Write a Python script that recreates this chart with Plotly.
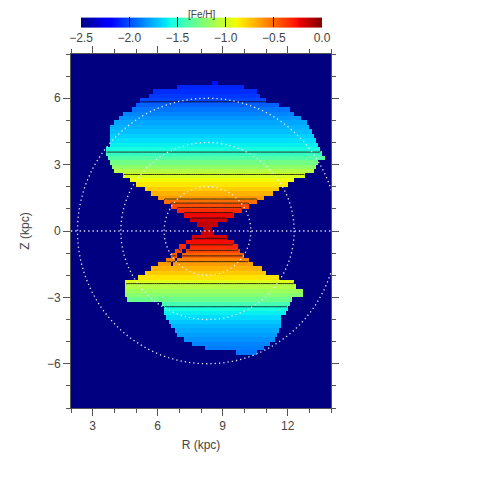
import numpy as np
import plotly.graph_objects as go

# rows of the map above the plane: Z centre (kpc), mean [Fe/H], R extent (kpc)
z_up = [0.1, 0.3, 0.5, 0.7, 0.9, 1.1, 1.3, 1.5, 1.7, 1.9, 2.1, 2.3, 2.5, 2.7, 2.9, 3.1, 3.3,
        3.5, 3.7, 3.9, 4.1, 4.3, 4.5, 4.7, 4.9, 5.1, 5.3, 5.5, 5.7, 5.9, 6.1, 6.3, 6.5, 6.7]
feh_up = [-0.12, -0.14, -0.17, -0.24, -0.33, -0.42, -0.52, -0.63, -0.70, -0.77, -0.84, -0.90,
          -0.97, -1.08, -1.20, -1.28, -1.38, -1.47, -1.56, -1.60, -1.64, -1.68, -1.72, -1.75,
          -1.78, -1.82, -1.86, -1.90, -1.95, -2.02, -2.05, -2.08, -2.10, -2.15]
rmin_up = [8.1, 7.85, 7.55, 7.25, 6.95, 6.65, 6.35, 6.05, 5.75, 5.4, 5.05, 4.7, 4.4, 4.0, 3.9,
           3.8, 3.75, 3.6, 3.6, 3.8, 3.8, 3.8, 3.8, 3.85, 4.0, 4.2, 4.4, 4.8, 5.0, 5.2, 5.6,
           5.8, 6.9, 8.5]
rmax_up = [8.5, 8.8, 9.15, 9.5, 9.85, 10.2, 10.55, 10.9, 11.25, 11.6, 11.95, 12.3, 12.8, 13.2,
           13.3, 13.4, 13.7, 13.6, 13.5, 13.4, 13.3, 13.2, 13.1, 13.0, 12.9, 12.6, 12.3, 12.1,
           11.6, 11.0, 10.7, 10.6, 10.0, 8.8]

# rows below the plane
z_lo = [-0.1, -0.3, -0.5, -0.7, -0.9, -1.1, -1.3, -1.5, -1.7, -1.9, -2.1, -2.3, -2.5, -2.7,
        -2.9, -3.1, -3.3, -3.5, -3.7, -3.9, -4.1, -4.3, -4.5, -4.7, -4.9, -5.1, -5.3, -5.5]
feh_lo = [-0.15, -0.19, -0.25, -0.33, -0.41, -0.49, -0.57, -0.64, -0.70, -0.76, -0.83, -0.95,
          -1.08, -1.15, -1.22, -1.30, -1.42, -1.55, -1.60, -1.65, -1.70, -1.74, -1.77, -1.80,
          -1.83, -1.86, -1.88, -1.90]
rmin_lo = [8.0, 7.6, 7.3, 7.05, 6.85, 6.65, 6.45, 6.05, 5.75, 5.4, 5.1, 4.5, 4.5, 4.5, 4.5,
           4.6, 6.2, 6.3, 6.3, 6.45, 6.5, 6.6, 6.8, 6.9, 7.2, 7.6, 8.2, 9.6]
rmax_lo = [8.6, 9.2, 9.45, 9.65, 9.82, 9.95, 10.2, 10.4, 10.75, 10.95, 11.6, 12.3, 12.4, 12.7,
           12.7, 12.2, 12.1, 12.0, 11.9, 11.7, 11.65, 11.65, 11.6, 11.5, 11.4, 11.2, 10.9, 10.6]

# empty streak in the lower cone
gap_z = [-0.7, -0.9, -1.1, -1.3, -1.5]
gap_rmin = [7.35, 7.15, 6.95, 6.8, 6.6]
gap_rmax = [7.45, 7.25, 7.05, 6.9, 6.7]

r_sun = 8.3
circle_radii = [2, 4, 6]
contour_levels = [-2.0, -1.5, -1.0, -0.6, -0.5, -0.4, -0.3, -0.2]
cbar_ticks = [-2.5, -2.0, -1.5, -1.0, -0.5, 0.0]
cbar_text = ['\u22122.5', '\u22122.0', '\u22121.5', '\u22121.0', '\u22120.5', '0.0']
x_ticks = [3, 6, 9, 12]
y_ticks = [-6, -3, 0, 3, 6]
y_text = ['\u22126', '\u22123', '0', '3', '6']

# grid
r_c = np.round(np.arange(2.05, 14.0, 0.1), 3)
z_c = np.round(np.arange(-7.9, 8.0, 0.2), 3)
grid = np.full((len(z_c), len(r_c)), np.nan)
for zc, f, lo, hi in zip(z_up + z_lo, feh_up + feh_lo, rmin_up + rmin_lo, rmax_up + rmax_lo):
    i = int(np.argmin(abs(z_c - zc)))
    grid[i, (r_c >= lo) & (r_c <= hi)] = f
for zc, lo, hi in zip(gap_z, gap_rmin, gap_rmax):
    i = int(np.argmin(abs(z_c - zc)))
    grid[i, (r_c >= lo) & (r_c <= hi)] = np.nan


# matplotlib-like jet
def jet(f):
    r = np.interp(f, [0, 0.35, 0.66, 0.89, 1], [0, 0, 1, 1, 0.5])
    g = np.interp(f, [0, 0.125, 0.375, 0.64, 0.91, 1], [0, 0, 1, 1, 0, 0])
    b = np.interp(f, [0, 0.11, 0.34, 0.65, 1], [0.5, 1, 1, 0, 0])
    return 'rgb(%d,%d,%d)' % (round(r * 255), round(g * 255), round(b * 255))


stops = [0, 0.11, 0.125, 0.34, 0.35, 0.375, 0.64, 0.65, 0.66, 0.89, 0.91, 1]
jet_scale = [[s, jet(s)] for s in stops]
navy = jet(0)

font = 'Liberation Sans, Arial, sans-serif'
txt = '#444444'

fig = go.Figure()
fig.add_trace(go.Heatmap(
    x=r_c, y=z_c, z=grid, colorscale=jet_scale, zmin=-2.5, zmax=0.0,
    hoverongaps=False,
    colorbar=dict(
        orientation='h', xref='paper', yref='container',
        x=0.502, xanchor='center', y=1 - 48 / 480, yanchor='bottom',
        len=241, lenmode='pixels', thickness=10, thicknessmode='pixels',
        xpad=0, ypad=0, outlinewidth=0,
        ticks='inside', ticklen=10, tickcolor='black', tickwidth=1,
        tickvals=cbar_ticks, ticktext=cbar_text,
        tickfont=dict(family=font, size=12, color=txt),
    ),
))

for lev in contour_levels:
    fig.add_trace(go.Contour(
        x=r_c, y=z_c, z=grid, showscale=False, hoverinfo='skip',
        contours=dict(type='constraint', operation='=', value=lev),
        fillcolor='rgba(0,0,0,0)',
        line=dict(color='rgba(20,20,20,0.85)', width=1),
    ))

dots = dict(color='rgba(240,240,255,0.95)', width=1.3, dash='1.3px,3px')
for rad in circle_radii:
    fig.add_shape(type='circle', xref='x', yref='y', x0=r_sun - rad, x1=r_sun + rad,
                  y0=-rad, y1=rad, line=dots, layer='above')
fig.add_shape(type='line', xref='x', yref='y', x0=2, x1=14, y0=0, y1=0, line=dots, layer='above')

fig.add_annotation(text='[Fe/H]', xref='paper', yref='paper', x=0.502, y=1 + 46 / 354,
                   yanchor='top', borderpad=0, showarrow=False,
                   font=dict(family=font, size=10, color=txt))

axis = dict(showline=True, linecolor='#555555', linewidth=1, mirror='ticks', ticks='outside',
            ticklen=7, tickcolor='#555555', showgrid=False, zeroline=False,
            tickfont=dict(family=font, size=12, color=txt))
# page body has an 8px margin, so everything is shifted up/left by 8px
fig.update_layout(
    width=480, height=480,
    margin=dict(l=63, r=157, t=46, b=80, autoexpand=False),
    paper_bgcolor='white', plot_bgcolor=navy,
    showlegend=False,
    xaxis=dict(axis, range=[2, 14], tickvals=x_ticks,
               minor=dict(dtick=1, tick0=2, ticks='outside', ticklen=4, tickcolor='#555555'),
               title=dict(text='R (kpc)', font=dict(family=font, size=12, color=txt), standoff=8)),
    yaxis=dict(axis, range=[-8, 8], tickvals=y_ticks, ticktext=y_text,
               minor=dict(dtick=1, tick0=0, ticks='outside', ticklen=4, tickcolor='#555555'),
               title=dict(text='Z (kpc)', font=dict(family=font, size=12, color=txt), standoff=14)),
)

fig.write_html('out.html')
